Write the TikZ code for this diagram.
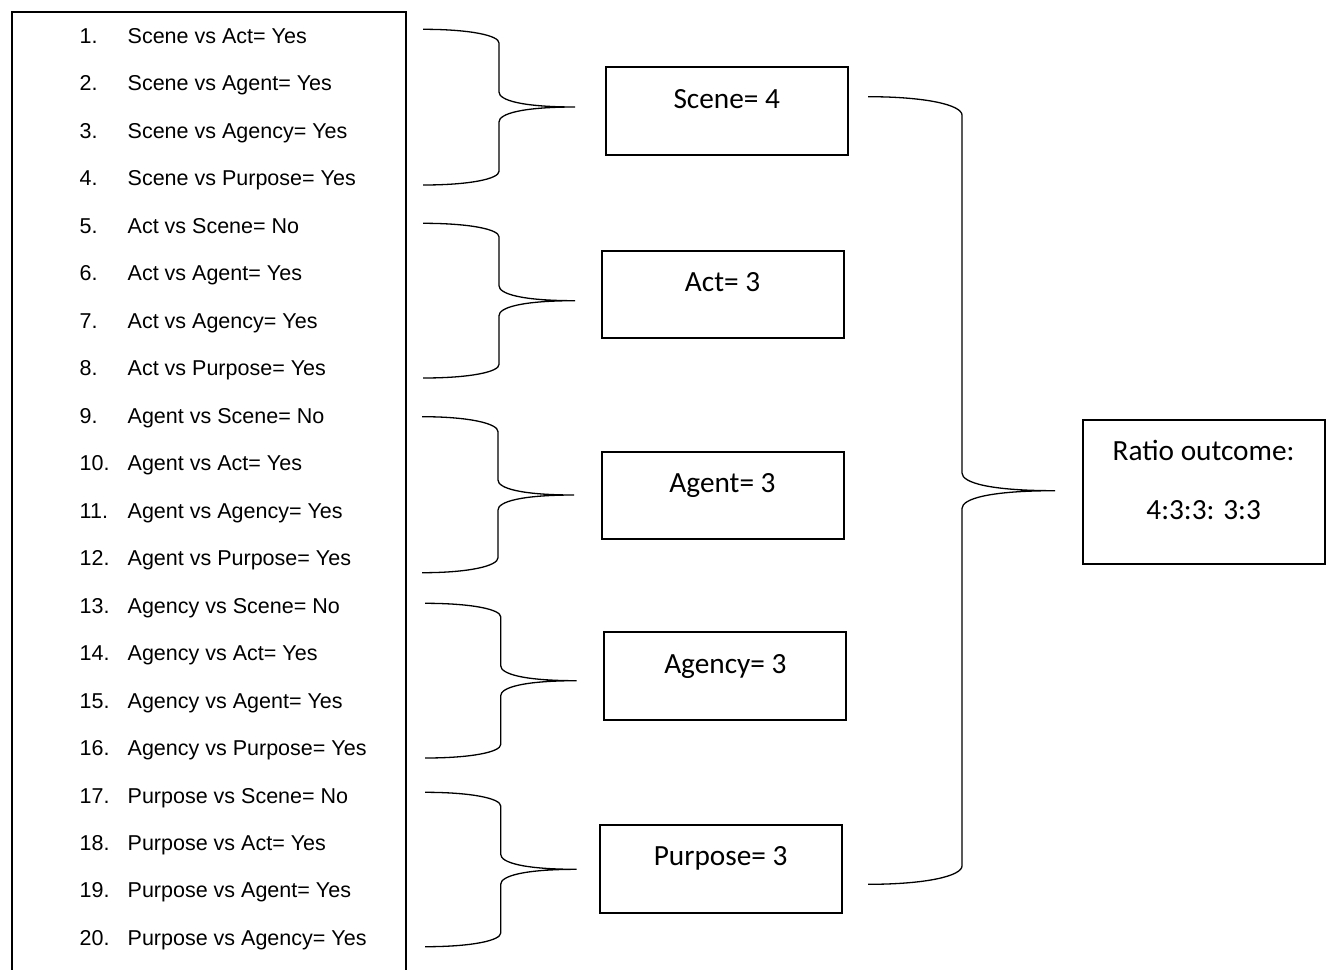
\documentclass[tikz,border=0pt]{standalone}
\usepackage{fontspec}
\setmainfont{Liberation Sans}
\newfontfamily\calib{Carlito}
\newcommand\brc[9]{% #1 xl, #2 xm, #3 xt, #4 ytop, #5 ytip, #6 ybot, #7 corner offset, #8 tip offset, #9 name
  \coordinate (#9top) at (#1,#4);
  \coordinate (#9tip) at (#3,#5);
  \coordinate (#9bot) at (#1,#6);
  \draw[bracestyle] (#9top) .. controls ({#1+0.62*(#2-#1)},#4) and (#2,{#4+0.45*#7}) .. (#2,{#4+#7})
    -- (#2,{#5-#8}) .. controls (#2,{#5-0.45*#8}) and ({#2+0.3*(#3-#2)},#5) .. (#9tip)
    .. controls ({#2+0.3*(#3-#2)},#5) and (#2,{#5+0.45*#8}) .. (#2,{#5+#8})
    -- (#2,{#6-#7}) .. controls (#2,{#6-0.45*#7}) and ({#1+0.62*(#2-#1)},#6) .. (#9bot);
}
\tikzset{
  bracestyle/.style={line width=1.3pt, black},
  outbox/.style={draw, line width=2pt, inner sep=0pt, minimum width=242pt, minimum height=87.5pt},
  boxtext/.style={anchor=base, inner sep=0pt, font=\calib\fontsize{29.3}{34}\selectfont},
  numtext/.style={anchor=base west, inner sep=0pt, font=\fontsize{21.5}{25}\selectfont},
  itemtext/.style={anchor=base west, inner sep=0pt, font=\fontsize{21.5}{25}\selectfont},
}
\begin{document}
\begin{tikzpicture}[x=1pt,y=-1pt]
\useasboundingbox (0,0) rectangle (1329,969);
% left list frame (open at bottom)
\draw[line width=2pt] (11.5,975) -- (11.5,11.7) -- (406,11.7) -- (406,975);
% list items
\foreach \n/\t in {1/Scene vs Act= Yes, 2/Scene vs Agent= Yes, 3/Scene vs Agency= Yes, 4/Scene vs Purpose= Yes,
  5/Act vs Scene= No, 6/Act vs Agent= Yes, 7/Act vs Agency= Yes, 8/Act vs Purpose= Yes,
  9/Agent vs Scene= No, 10/Agent vs Act= Yes, 11/Agent vs Agency= Yes, 12/Agent vs Purpose= Yes,
  13/Agency vs Scene= No, 14/Agency vs Act= Yes, 15/Agency vs Agent= Yes, 16/Agency vs Purpose= Yes,
  17/Purpose vs Scene= No, 18/Purpose vs Act= Yes, 19/Purpose vs Agent= Yes, 20/Purpose vs Agency= Yes}{
  \node[numtext] (num\n) at (79.5,{43.5+(\n-1)*47.47}) {\n.};
  \node[itemtext] (item\n) at (127.5,{43.5+(\n-1)*47.47}) {\t};
}
% small braces
\brc{423}{499}{575}{29.3}{107}{185}{13.7}{15}{ba}
\brc{423}{499}{575}{223.3}{300.7}{378}{13.5}{15}{bb}
\brc{422}{498}{574}{416.7}{495}{572.7}{15}{15}{bc}
\brc{425}{500.7}{576.7}{603.3}{680.7}{758}{13.5}{15}{bd}
\brc{425}{500.7}{576.7}{792.3}{869.3}{946.7}{13.7}{15}{be}
% boxes
\node[outbox] (scene) at (726.75,111.1) {};
\node[boxtext] (scenet) at (726.75,108.5) {Scene= 4};
\node[outbox] (act) at (722.6,294.25) {};
\node[boxtext] (actt) at (722.6,291) {Act= 3};
\node[outbox] (agent) at (722.5,495.6) {};
\node[boxtext] (agentt) at (722.5,492.5) {Agent= 3};
\node[outbox] (agency) at (725.35,676.1) {};
\node[boxtext] (agencyt) at (725.35,673.3) {Agency= 3};
\node[outbox] (purpose) at (720.6,868.85) {};
\node[boxtext] (purposet) at (720.6,865.8) {Purpose= 3};
% big brace
\brc{868}{962}{1055}{96.7}{490.7}{884.3}{18.5}{17.7}{bz}
% ratio box
\node[outbox, minimum height=144pt] (ratio) at (1203.6,492) {};
\node[boxtext] (ratio1) at (1203.6,460.7) {Ratio outcome:};
\node[boxtext] (ratio2) at (1203.6,519.3) {4:3:3: 3:3};
\end{tikzpicture}
\end{document}
